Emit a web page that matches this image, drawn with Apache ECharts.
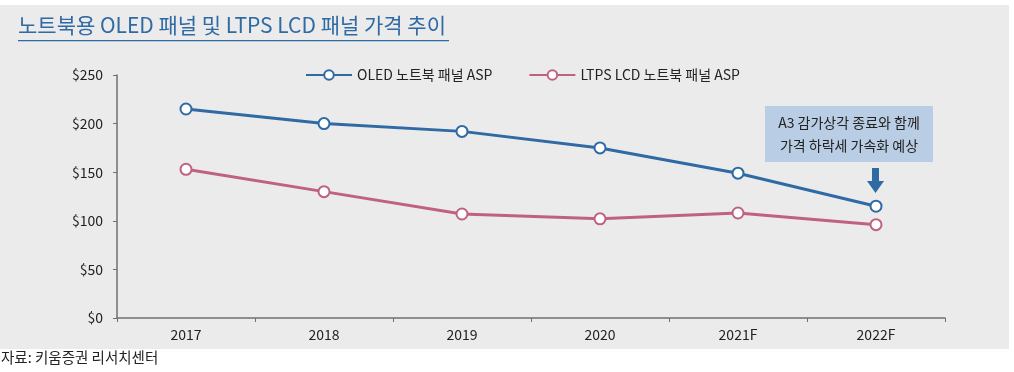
<!DOCTYPE html>
<html><head><meta charset="utf-8">
<script src="https://cdn.jsdelivr.net/npm/echarts@6/dist/echarts.min.js"></script>
<style>html,body{margin:0;padding:0;background:#fff}#c{width:1014px;height:372px}</style>
</head><body><div id="c"></div>
<script>
const categories = ['2017', '2018', '2019', '2020', '2021F', '2022F'];
const oledAsp = [215, 200, 192, 175, 149, 115];
const ltpsAsp = [153, 130, 107, 102, 108, 96];
const seriesNames = ['OLED 노트북 패널 ASP', 'LTPS LCD 노트북 패널 ASP'];
const yTicks = [0, 50, 100, 150, 200, 250];

const FONT = '"Noto Sans CJK KR", "Noto Sans", sans-serif';
const chart = echarts.init(document.getElementById('c'));
chart.setOption({
  animation: false,
  textStyle: { fontFamily: FONT },
  graphic: [
    { type: 'rect', z: -10, shape: { x: 0, y: 5, width: 1009, height: 344 }, style: { fill: '#ebebeb' } },
    { type: 'text', left: 18, top: 15, style: { text: '노트북용 OLED 패널 및 LTPS LCD 패널 가격 추이', font: '21px ' + FONT, fill: '#2f6aa5' } },
    { type: 'rect', shape: { x: 18, y: 40, width: 431, height: 1.2 }, style: { fill: '#2f6aa5' } },
    { type: 'text', left: 1, top: 350, style: { text: '자료: 키움증권 리서치센터', font: '14.5px ' + FONT, fill: '#222' } },
    { type: 'rect', shape: { x: 765, y: 106, width: 168, height: 56 }, style: { fill: '#b9cde5' } },
    { type: 'text', x: 849, y: 134, style: { text: 'A3 감가상각 종료와 함께\n가격 하락세 가속화 예상', font: '14px ' + FONT, fill: '#222', align: 'center', verticalAlign: 'middle', lineHeight: 23 } },
    { type: 'polygon', shape: { points: [[872, 168], [879, 168], [879, 181], [884, 181], [875.5, 193], [867, 181], [872, 181]] }, style: { fill: '#2f6aa5' } }
  ],
  legend: {
    top: 63, left: 300, itemGap: 36, itemWidth: 46, itemHeight: 12,
    textStyle: { fontSize: 14, color: '#222', fontFamily: FONT },
    data: seriesNames
  },
  grid: { left: 117, right: 69, top: 75, bottom: 54 },
  xAxis: {
    type: 'category', data: categories, boundaryGap: true,
    axisLine: { lineStyle: { color: '#707070', width: 1.5 } },
    axisTick: { show: true, length: 4, lineStyle: { color: '#707070' } },
    axisLabel: { fontSize: 14, color: '#222', margin: 10 }
  },
  yAxis: {
    type: 'value', min: 0, max: 250, interval: 50,
    axisLine: { show: true, lineStyle: { color: '#707070', width: 1.5 } },
    axisTick: { show: true, length: 4, lineStyle: { color: '#707070' } },
    splitLine: { show: false },
    axisLabel: { fontSize: 14, color: '#222', margin: 14, formatter: v => '$' + v }
  },
  series: [
    { name: seriesNames[0], type: 'line', data: oledAsp, symbol: 'circle', symbolSize: 11,
      lineStyle: { color: '#2f6aa5', width: 3 },
      itemStyle: { color: '#fff', borderColor: '#2f6aa5', borderWidth: 2 } },
    { name: seriesNames[1], type: 'line', data: ltpsAsp, symbol: 'circle', symbolSize: 11,
      lineStyle: { color: '#c0627f', width: 3 },
      itemStyle: { color: '#fff', borderColor: '#c0627f', borderWidth: 2 } }
  ]
});
</script></body></html>
